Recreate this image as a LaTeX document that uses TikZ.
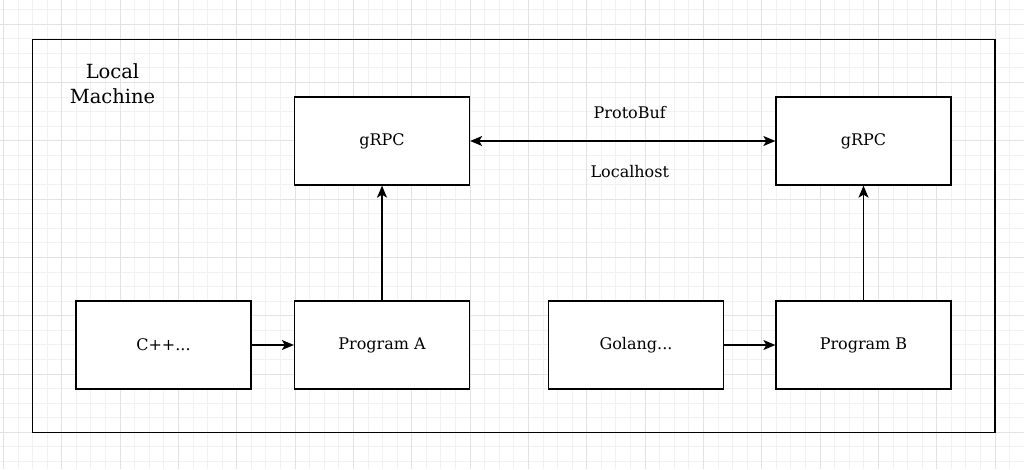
\documentclass[tikz,border=0pt]{standalone}
\usepackage{fontspec}
\setmainfont{DejaVu Serif}
\usetikzlibrary{arrows.meta}

\definecolor{gridminor}{HTML}{F1F1F1}
\definecolor{gridmajor}{HTML}{E2E2E2}

\tikzset{
    box/.style={draw, line width=1.3pt, fill=white, minimum width=175pt, minimum height=88pt, inner sep=0pt, font=\fontsize{16}{19}\selectfont},
    flow/.style={line width=1.3pt, -{Stealth[length=12pt,width=10pt,inset=3pt]}},
    lbl/.style={font=\fontsize{16}{19}\selectfont, inner sep=0pt}
}

\begin{document}
\begin{tikzpicture}[x=1pt,y=-1pt]
        \useasboundingbox (0,0) rectangle (1024,469);
        \fill[white] (0,0) rectangle (1024,469);

        % grid
        \foreach \k in {0,...,70} {
            \draw[gridminor, line width=0.8pt] ({3.4+\k*14.583},0) -- ++(0,469);
        }
        \foreach \k in {0,...,32} {
            \draw[gridminor, line width=0.8pt] (0,{9.4+\k*14.583}) -- ++(1024,0);
        }
        \foreach \k in {0,...,17} {
            \draw[gridmajor, line width=0.8pt] ({3.4+\k*58.333},0) -- ++(0,469);
        }
        \foreach \k in {0,...,7} {
            \draw[gridmajor, line width=0.8pt] (0,{24+\k*58.333}) -- ++(1024,0);
        }

        % machine frame
        \draw[line width=1.3pt] (32.5,39.5) rectangle (995,432.5);
        \node[align=center, font=\fontsize{19.5}{24.6}\selectfont, inner sep=0pt] (machine) at (112.5,84) {Local\\Machine};

        \node[box] (grpcA) at (382,141) {gRPC};
        \node[box] (grpcB) at (863.5,141) {gRPC};

        \node[box] (cpp) at (163.5,345) {C++...};
        \node[box] (progA) at (382,345) {Program A};
        \node[box] (golang) at (636,345) {Golang...};
        \node[box] (progB) at (863.5,345) {Program B};

        \draw[flow] (cpp) -- (progA);
        \draw[flow] (golang) -- (progB);
        \draw[flow] (progA) -- (grpcA);
        \draw[flow] (progB) -- (grpcB);
        \draw[flow, {Stealth[length=12pt,width=10pt,inset=3pt]}-{Stealth[length=12pt,width=10pt,inset=3pt]}] (grpcA) --
            node[lbl, pos=0.523, yshift=28pt] (proto) {ProtoBuf}
            node[lbl, pos=0.523, yshift=-31pt] (host) {Localhost} (grpcB);

    \end{tikzpicture}
\end{document}
